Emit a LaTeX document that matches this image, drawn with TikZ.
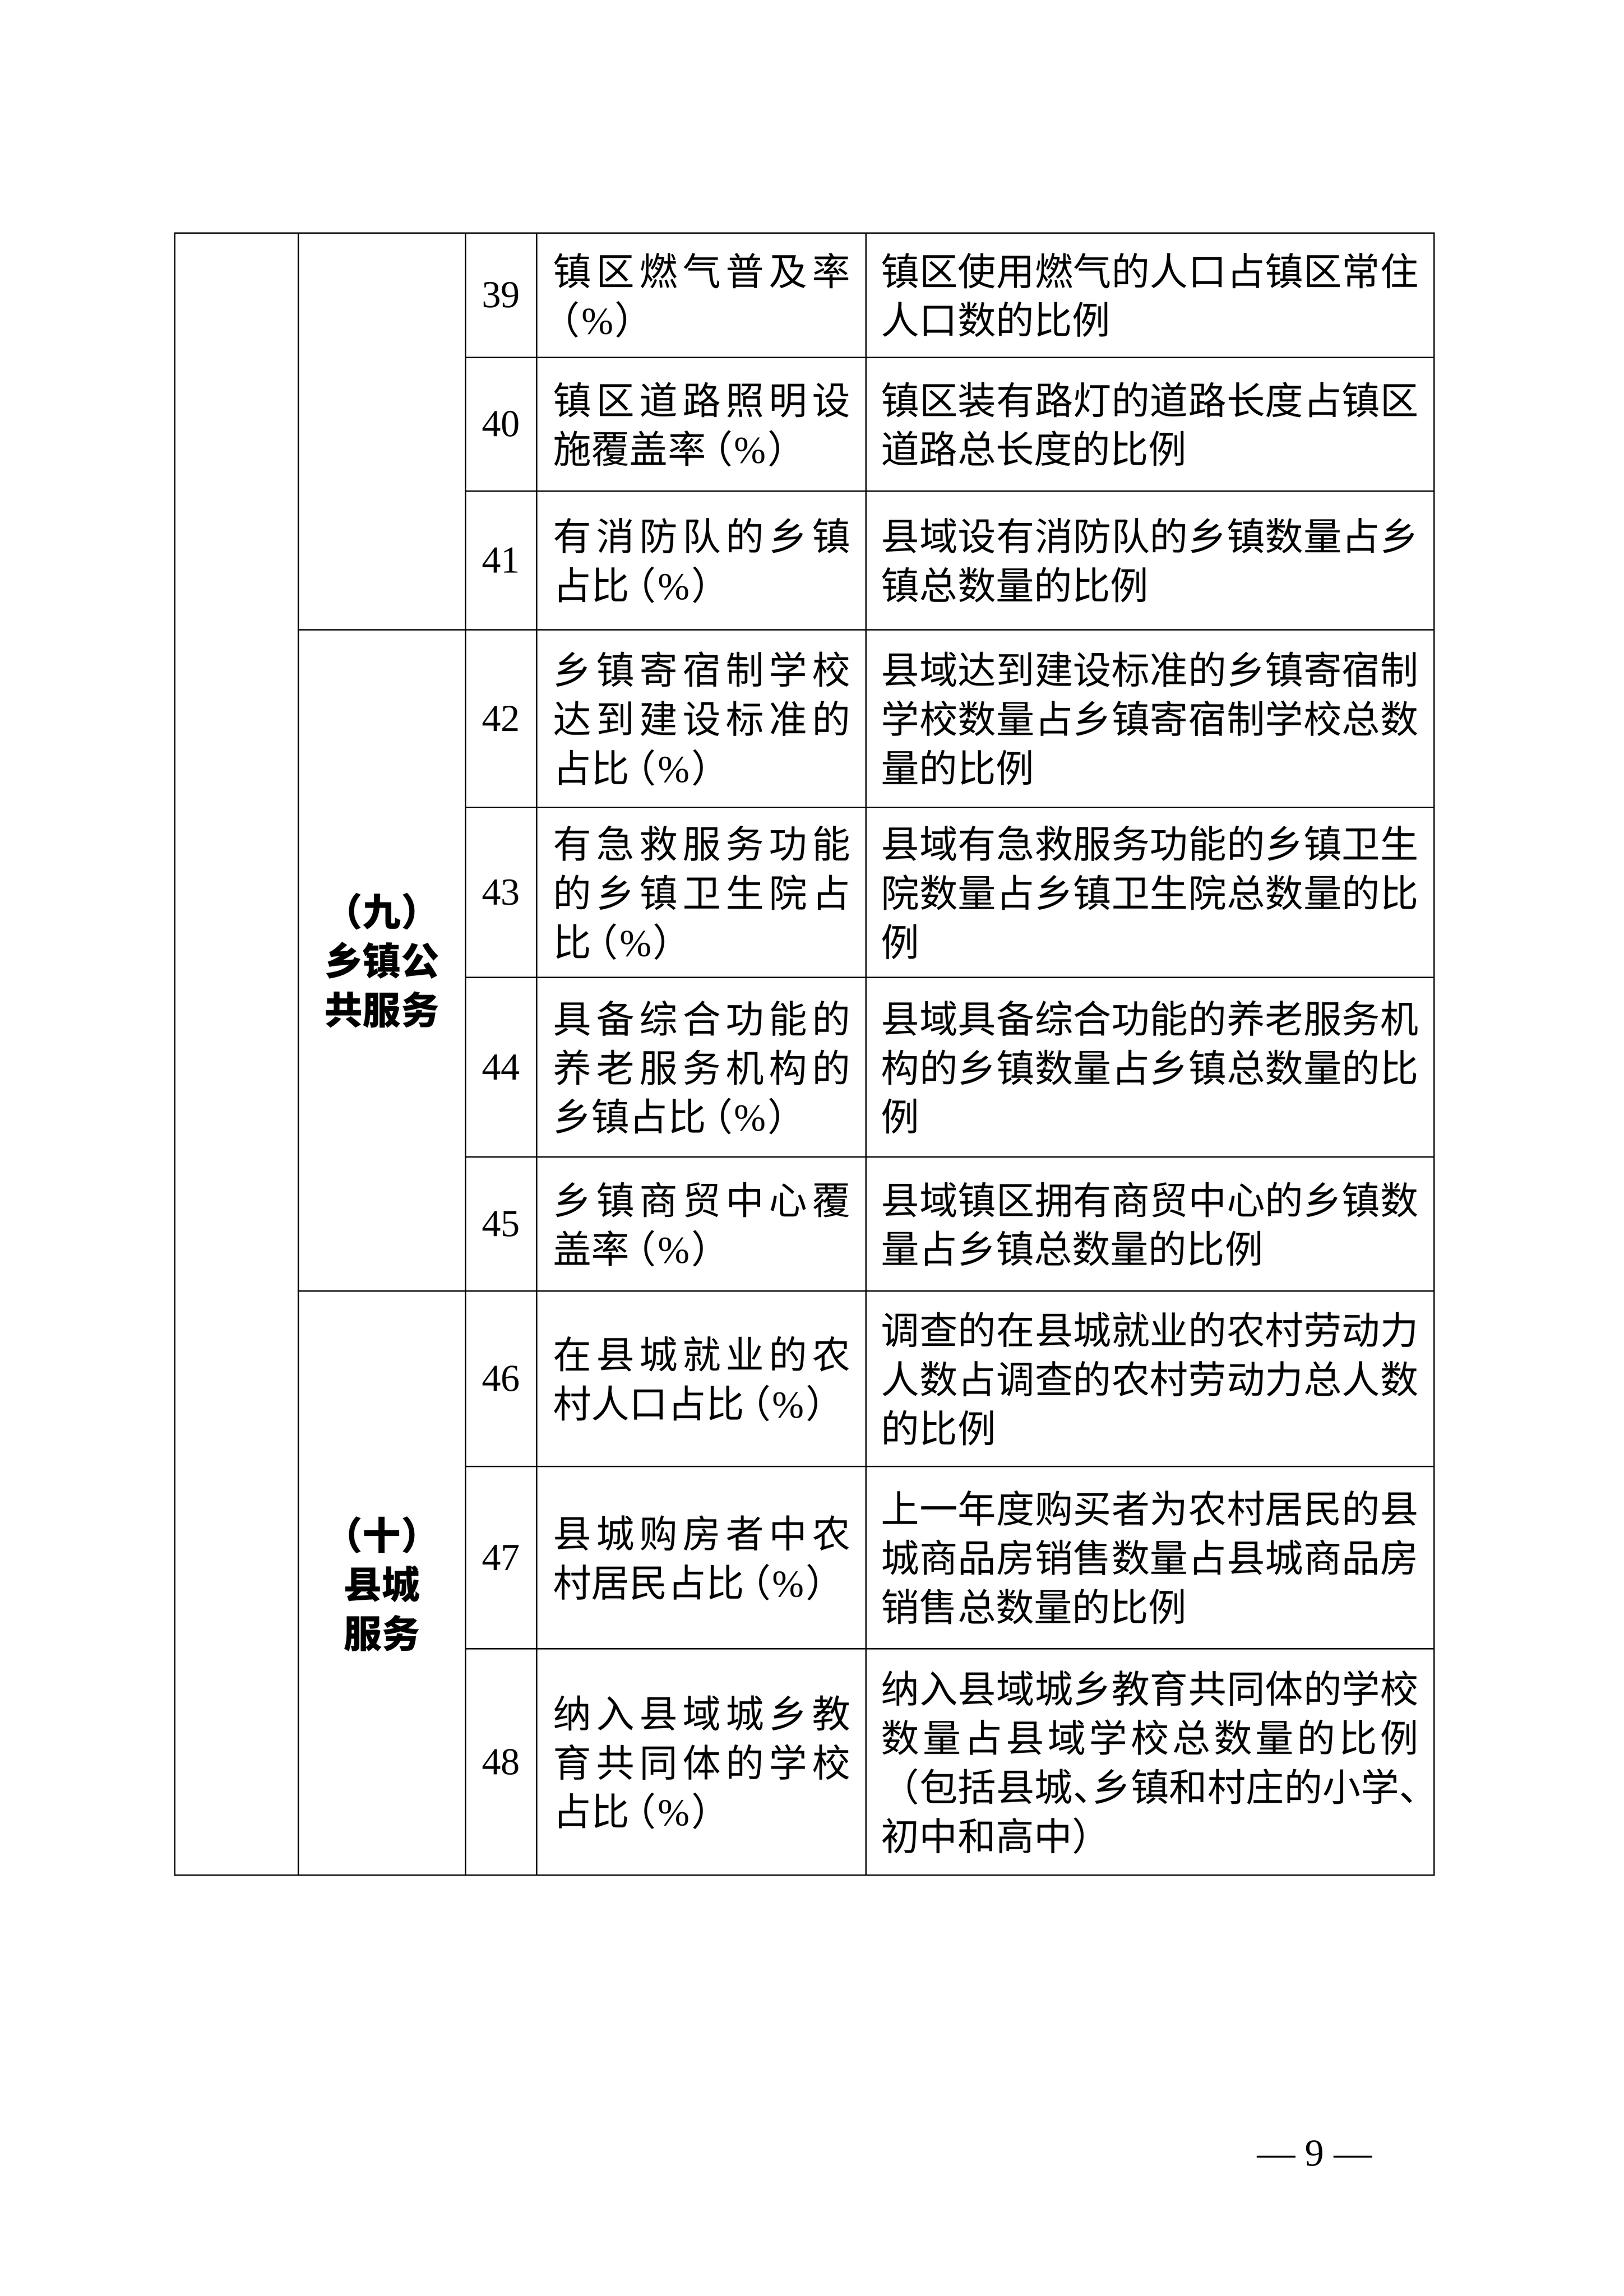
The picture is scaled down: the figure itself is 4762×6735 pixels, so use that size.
\documentclass[tikz,border=0pt]{standalone}
\usepackage{fontspec}
\setmainfont{Liberation Serif}
\newfontfamily\cjk{Noto Sans CJK SC}
\makeatletter
\let\sp@end\relax
\newcommand\spreadto[2]{\makebox[#1][s]{\sp@a#2\sp@end}}
\def\sp@a#1{#1\futurelet\sp@next\sp@b}
\def\sp@b{\ifx\sp@next\sp@end\expandafter\@gobble\else\hskip0pt plus 1fil minus 1fil\relax\expandafter\sp@a\fi}
\makeatother
\newcommand\JA[1]{\spreadto{109pt}{#1}}
\newcommand\JB[1]{\spreadto{197pt}{#1}}
\newcommand\pct{\kern-0.3em（\kern0.04em{\rmfamily\%}\kern0.04em）}
\newcommand\hk{\kern-0.5em}
\newcommand\celllines[5]{%
  \foreach \tx [count=\i] in {#5}{%
    \node[txt] (#1-\i) at (#2, {#3+(\i-(#4+1)/2)*144+43}) {\tx};
  }}
\newcommand\catlines[5]{%
  \foreach \tx [count=\i] in {#5}{%
    \node[cat] (#1-\i) at (#2, {#3+(\i-(#4+1)/2)*144+43}) {\tx};
  }}
\tikzset{
  grid/.style={line width=0.5pt, line cap=rect, draw=black},
  txt/.style={font=\cjk\fontsize{14pt}{18pt}\selectfont, anchor=base west, inner sep=0pt},
  cat/.style={font=\cjk\bfseries\fontsize{14pt}{18pt}\selectfont, anchor=base, inner sep=0pt},
  num/.style={font=\rmfamily\fontsize{14pt}{18pt}\selectfont, anchor=center, inner sep=0pt},
}
\begin{document}
\begin{tikzpicture}[x=0.125pt, y=-0.125pt]
\fill[white] (0,0) rectangle (4762,6735);
\useasboundingbox (0,0) rectangle (4762,6735);
% table grid
\draw[grid] (512,683) rectangle (4206,5501);
\foreach \cx in {875,1365,1574,2540} {\draw[grid] (\cx,683) -- (\cx,5501);}
\foreach \ry in {1048,1440,2368,2867,3394,4301,4836} {\draw[grid] (1365,\ry) -- (4206,\ry);}
\foreach \ry in {1848,3787} {\draw[grid] (875,\ry) -- (4206,\ry);}
% categories
\catlines{c9}{1120}{2817}{3}{（九）,乡镇公,共服务}
\catlines{c10}{1120}{4647}{3}{（十）,县城,服务}
% numbers
\node[num] (n39) at (1469.5,865.5) {39};
\node[num] (n40) at (1469.5,1244) {40};
\node[num] (n41) at (1469.5,1644) {41};
\node[num] (n42) at (1469.5,2108) {42};
\node[num] (n43) at (1469.5,2617.5) {43};
\node[num] (n44) at (1469.5,3130.5) {44};
\node[num] (n45) at (1469.5,3590.5) {45};
\node[num] (n46) at (1469.5,4044) {46};
\node[num] (n47) at (1469.5,4568.5) {47};
\node[num] (n48) at (1469.5,5168.5) {48};
% indicator names
\celllines{a39}{1621}{865.5}{2}{\JA{镇区燃气普及率},\pct}
\celllines{a40}{1621}{1244}{2}{\JA{镇区道路照明设},施覆盖率\pct}
\celllines{a41}{1621}{1644}{2}{\JA{有消防队的乡镇},占比\pct}
\celllines{a42}{1621}{2108}{3}{\JA{乡镇寄宿制学校},\JA{达到建设标准的},占比\pct}
\celllines{a43}{1621}{2617.5}{3}{\JA{有急救服务功能},\JA{的乡镇卫生院占},比\pct}
\celllines{a44}{1621}{3130.5}{3}{\JA{具备综合功能的},\JA{养老服务机构的},乡镇占比\pct}
\celllines{a45}{1621}{3590.5}{2}{\JA{乡镇商贸中心覆},盖率\pct}
\celllines{a46}{1621}{4044}{2}{\JA{在县城就业的农},村人口占比\pct}
\celllines{a47}{1621}{4568.5}{2}{\JA{县城购房者中农},村居民占比\pct}
\celllines{a48}{1621}{5168.5}{3}{\JA{纳入县域城乡教},\JA{育共同体的学校},占比\pct}
% definitions
\celllines{b39}{2583}{865.5}{2}{\JB{镇区使用燃气的人口占镇区常住},人口数的比例}
\celllines{b40}{2583}{1244}{2}{\JB{镇区装有路灯的道路长度占镇区},道路总长度的比例}
\celllines{b41}{2583}{1644}{2}{\JB{县域设有消防队的乡镇数量占乡},镇总数量的比例}
\celllines{b42}{2583}{2108}{3}{\JB{县域达到建设标准的乡镇寄宿制},\JB{学校数量占乡镇寄宿制学校总数},量的比例}
\celllines{b43}{2583}{2617.5}{3}{\JB{县域有急救服务功能的乡镇卫生},\JB{院数量占乡镇卫生院总数量的比},例}
\celllines{b44}{2583}{3130.5}{3}{\JB{县域具备综合功能的养老服务机},\JB{构的乡镇数量占乡镇总数量的比},例}
\celllines{b45}{2583}{3590.5}{2}{\JB{县域镇区拥有商贸中心的乡镇数},量占乡镇总数量的比例}
\celllines{b46}{2583}{4044}{3}{\JB{调查的在县城就业的农村劳动力},\JB{人数占调查的农村劳动力总人数},的比例}
\celllines{b47}{2583}{4568.5}{3}{\JB{上一年度购买者为农村居民的县},\JB{城商品房销售数量占县城商品房},销售总数量的比例}
\celllines{b48}{2583}{5168.5}{4}{\JB{纳入县域城乡教育共同体的学校},\JB{数量占县域学校总数量的比例},\JB{（包括县城、\hk 乡镇和村庄的小学、\hk},初中和高中）}
% page number
\node[num] (page) at (3856,6316) {— 9 —};
\end{tikzpicture}
\end{document}
